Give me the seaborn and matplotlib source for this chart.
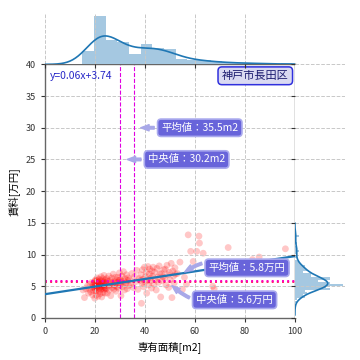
import matplotlib
matplotlib.use("Agg")
import matplotlib.pyplot as plt
import seaborn as sns
import numpy as np
import pandas as pd

# ---------------- data ----------------
area = [
    15.2, 15.8, 16.3, 16.9, 17.4, 17.8, 18.0, 18.3, 18.7, 18.9, 19.1, 19.3, 19.5,
    19.7, 19.8, 19.9, 20.0, 20.0, 20.1, 20.2, 20.3, 20.4, 20.5, 20.6, 20.7, 20.8, 20.9,
    21.0, 21.1, 21.2, 21.3, 21.4, 21.5, 21.6, 21.7, 21.8, 21.9, 22.0, 22.1, 22.2, 22.3,
    22.4, 22.5, 22.6, 22.7, 22.8, 22.9, 23.0, 23.1, 23.2, 23.3, 23.4, 23.5, 23.6, 23.7,
    23.8, 23.9, 24.0, 24.0, 24.1, 24.1,
    24.3, 24.5, 24.7, 24.9, 25.1, 25.3, 25.5, 25.7, 25.9, 26.1, 26.3, 26.5, 26.7, 26.9,
    27.1, 27.3, 27.5, 27.7, 27.9, 28.1, 28.3, 28.5, 28.7, 28.8,
    29.0, 29.2, 29.4, 29.6, 29.8, 30.0, 30.2, 30.4, 30.6, 30.8, 31.0, 31.2, 31.4, 31.6,
    31.8, 32.0, 32.3, 32.6, 32.9, 33.1, 33.3, 33.5,
    33.8, 34.3, 34.8, 35.3, 35.8, 36.2, 36.7, 37.2, 37.7, 38.1,
    38.4, 38.6, 38.8, 39.0, 39.3, 39.5, 39.8, 40.0, 40.2, 40.5, 40.7, 41.0, 41.2, 41.4,
    41.7, 41.9, 42.1, 42.4, 42.6, 42.8,
    43.0, 43.3, 43.6, 43.9, 44.2, 44.5, 44.8, 45.1, 45.4, 45.7, 46.0, 46.3, 46.6, 46.9,
    47.2, 47.5,
    47.8, 48.1, 48.4, 48.8, 49.1, 49.5, 49.8, 50.1, 50.5, 50.8, 51.1, 51.4, 51.7, 52.0, 52.2,
    53.0, 54.0, 55.0, 55.8, 56.6,
    57.3, 58.3, 59.3, 60.7,
    61.6, 61.8, 63.3, 65.0,
    67.1, 67.7, 69.5,
    73.3, 74.5,
    78.0, 83.0, 85.7, 96.2,
]
rent = [
    4.4, 3.2, 4.6, 5.0, 3.9, 4.5, 5.3, 4.1, 5.6, 4.8, 3.6, 5.2, 4.3,
    5.5, 4.9, 3.1, 5.8, 4.6, 5.2, 6.0, 4.3, 5.4, 3.6, 5.9, 4.8, 5.1, 6.3,
    4.5, 5.6, 3.4, 5.0, 5.7, 4.2, 6.1, 5.3, 4.7, 5.5, 3.8, 5.9, 4.4, 5.2,
    6.5, 4.9, 5.4, 3.3, 5.8, 4.6, 5.1, 6.2, 4.0, 5.5, 4.8, 5.3, 6.7, 4.5,
    5.0, 5.7, 3.9, 5.6, 4.7, 6.0,
    5.4, 4.6, 6.2, 3.9, 5.8, 5.0, 6.6, 4.4, 5.3, 5.9, 3.5, 5.6, 6.3, 4.8,
    5.2, 6.9, 4.5, 5.7, 5.1, 6.4, 4.2, 5.5, 6.0, 4.9,
    5.6, 6.4, 4.7, 5.9, 7.1, 5.2, 6.0, 3.5, 5.7, 6.6, 4.9, 5.4, 7.3, 5.8,
    4.4, 6.2, 5.5, 6.8, 4.6, 5.9, 6.3, 5.1,
    6.0, 5.3, 7.0, 4.8, 6.5, 5.7, 7.5, 4.5, 6.2, 5.9,
    6.8, 2.3, 5.4, 7.6, 6.1, 4.9, 8.0, 5.7, 6.5, 7.2, 3.9, 6.0, 8.1, 5.2,
    6.9, 7.7, 5.8, 6.3, 4.7, 7.4,
    6.6, 8.0, 5.3, 7.2, 6.0, 4.4, 7.8, 6.4, 5.6, 8.2, 6.9, 3.3, 7.0, 5.9,
    6.5, 7.6,
    6.3, 7.7, 5.2, 8.3, 6.8, 4.8, 7.2, 6.0, 8.6, 3.2, 7.4, 6.6, 5.5, 7.9, 6.9,
    7.0, 8.8, 4.5, 6.4, 5.3,
    13.1, 10.5, 8.9, 10.5,
    12.9, 11.8, 10.2, 7.5,
    5.0, 4.6, 8.0,
    11.1, 7.8,
    8.5, 9.2, 9.6, 10.9,
]
df = pd.DataFrame({"area": area, "rent": rent})

reg_slope = 0.06
reg_intercept = 3.74
mean_area, median_area = 35.5, 30.2
mean_rent, median_rent = 5.8, 5.6
area_bins = [14.9, 19.57, 24.24, 28.91, 33.58, 38.25, 42.92, 47.59, 52.26, 56.93,
             61.6, 66.27, 70.94, 75.61, 80.28, 84.95, 89.62, 94.29, 98.96]

# ---------------- style ----------------
plt.rcParams.update({
    "axes.grid": True,
    "grid.linestyle": "--",
    "grid.color": "#c8c8c8",
    "grid.linewidth": 0.7,
    "axes.edgecolor": "#666666",
    "axes.linewidth": 1.0,
    "xtick.labelsize": 6.5,
    "ytick.labelsize": 6.5,
    "xtick.major.size": 3,
    "ytick.major.size": 3,
    "xtick.color": "#333333",
    "ytick.color": "#333333",
})
plt.rcParams["font.family"] = ["Noto Sans CJK JP", "DejaVu Sans"]

g = sns.JointGrid(data=df, x="area", y="rent", height=3.6, ratio=5, space=0)
fig = g.figure
fig.set_size_inches(3.6, 3.6)
fig.subplots_adjust(left=0.125, right=0.958, bottom=0.117, top=0.962)
ax = g.ax_joint
axx = g.ax_marg_x
axy = g.ax_marg_y

hist_color = "#1f77b4"
sns.histplot(data=df, x="area", bins=area_bins, stat="density", ax=axx,
             color=hist_color, alpha=0.4, edgecolor="none", linewidth=0)
sns.kdeplot(data=df, x="area", ax=axx, color=hist_color, lw=1.2, cut=3)
sns.histplot(data=df, y="rent", binwidth=0.3, stat="density", ax=axy,
             color=hist_color, alpha=0.4, edgecolor="none", linewidth=0)
sns.kdeplot(data=df, y="rent", ax=axy, color=hist_color, lw=1.2, cut=3)

sns.scatterplot(data=df, x="area", y="rent", ax=ax, color="red", alpha=0.22,
                s=24, edgecolor="none")
line_x = np.array([0, 100])
ax.plot(line_x, reg_slope * line_x + reg_intercept, color="#1f77b4", lw=1.6, zorder=3)

ax.axvline(median_area, color="#e000e0", ls="--", lw=0.8, zorder=2)
ax.axvline(mean_area, color="#e000e0", ls="--", lw=0.8, zorder=2)
ax.axhline(median_rent, color="#ff2060", ls=":", lw=1.4, zorder=2)
ax.axhline(mean_rent, color="#ff00c0", ls=":", lw=1.4, zorder=2)

ax.set_xlim(0, 100)
ax.set_ylim(0, 40)
ax.set_xticks([0, 20, 40, 60, 80, 100])
ax.set_yticks([0, 5, 10, 15, 20, 25, 30, 35, 40])
for sp in ax.spines.values():
    sp.set_visible(True)
    sp.set_color("#666666")
for a in (axx, axy):
    for sp in a.spines.values():
        sp.set_visible(False)
axx.set_xlabel("")
axx.set_ylabel("")
axy.set_xlabel("")
axy.set_ylabel("")
ax.set_xlabel("専有面積[m2]", fontsize=7.5)
ax.set_ylabel("賃料[万円]", fontsize=7.5)

box = dict(boxstyle="round,pad=0.35", fc="#6864da", ec="#aaaaee", lw=1.2)
arrow = dict(arrowstyle="simple,head_width=0.6,head_length=0.8,tail_width=0.25",
             color="#a8a8e8")
fs_ann = 7.5
ax.annotate("平均値：35.5m2", xy=(mean_area + 1.7, 30), xytext=(mean_area + 11, 30),
            color="white", fontsize=fs_ann, va="center", ha="left", bbox=box,
            arrowprops=arrow)
ax.annotate("中央値：30.2m2", xy=(median_area + 1.6, 25), xytext=(median_area + 11, 25),
            color="white", fontsize=fs_ann, va="center", ha="left", bbox=box,
            arrowprops=arrow)
ax.annotate("平均値：5.8万円", xy=(55, 7.0), xytext=(65.5, 7.9),
            color="white", fontsize=fs_ann, va="center", ha="left", bbox=box,
            arrowprops=dict(arrow, connectionstyle="arc3,rad=0.3"))
ax.annotate("中央値：5.6万円", xy=(50, 5.4), xytext=(60.5, 2.85),
            color="white", fontsize=fs_ann, va="center", ha="left", bbox=box,
            arrowprops=dict(arrow, connectionstyle="arc3,rad=-0.3"))

ax.text(2, 38.1, "y=0.06x+3.74", color="#2828c8", fontsize=7.5, va="center", ha="left")
ax.text(97.5, 38.2, "神戸市長田区", color="#1a1a6e", fontsize=8, va="center", ha="right",
        bbox=dict(boxstyle="round,pad=0.35", fc="#dadaf2", ec="#3030dd", lw=1.1))

fig.savefig("out.png", dpi=100)
